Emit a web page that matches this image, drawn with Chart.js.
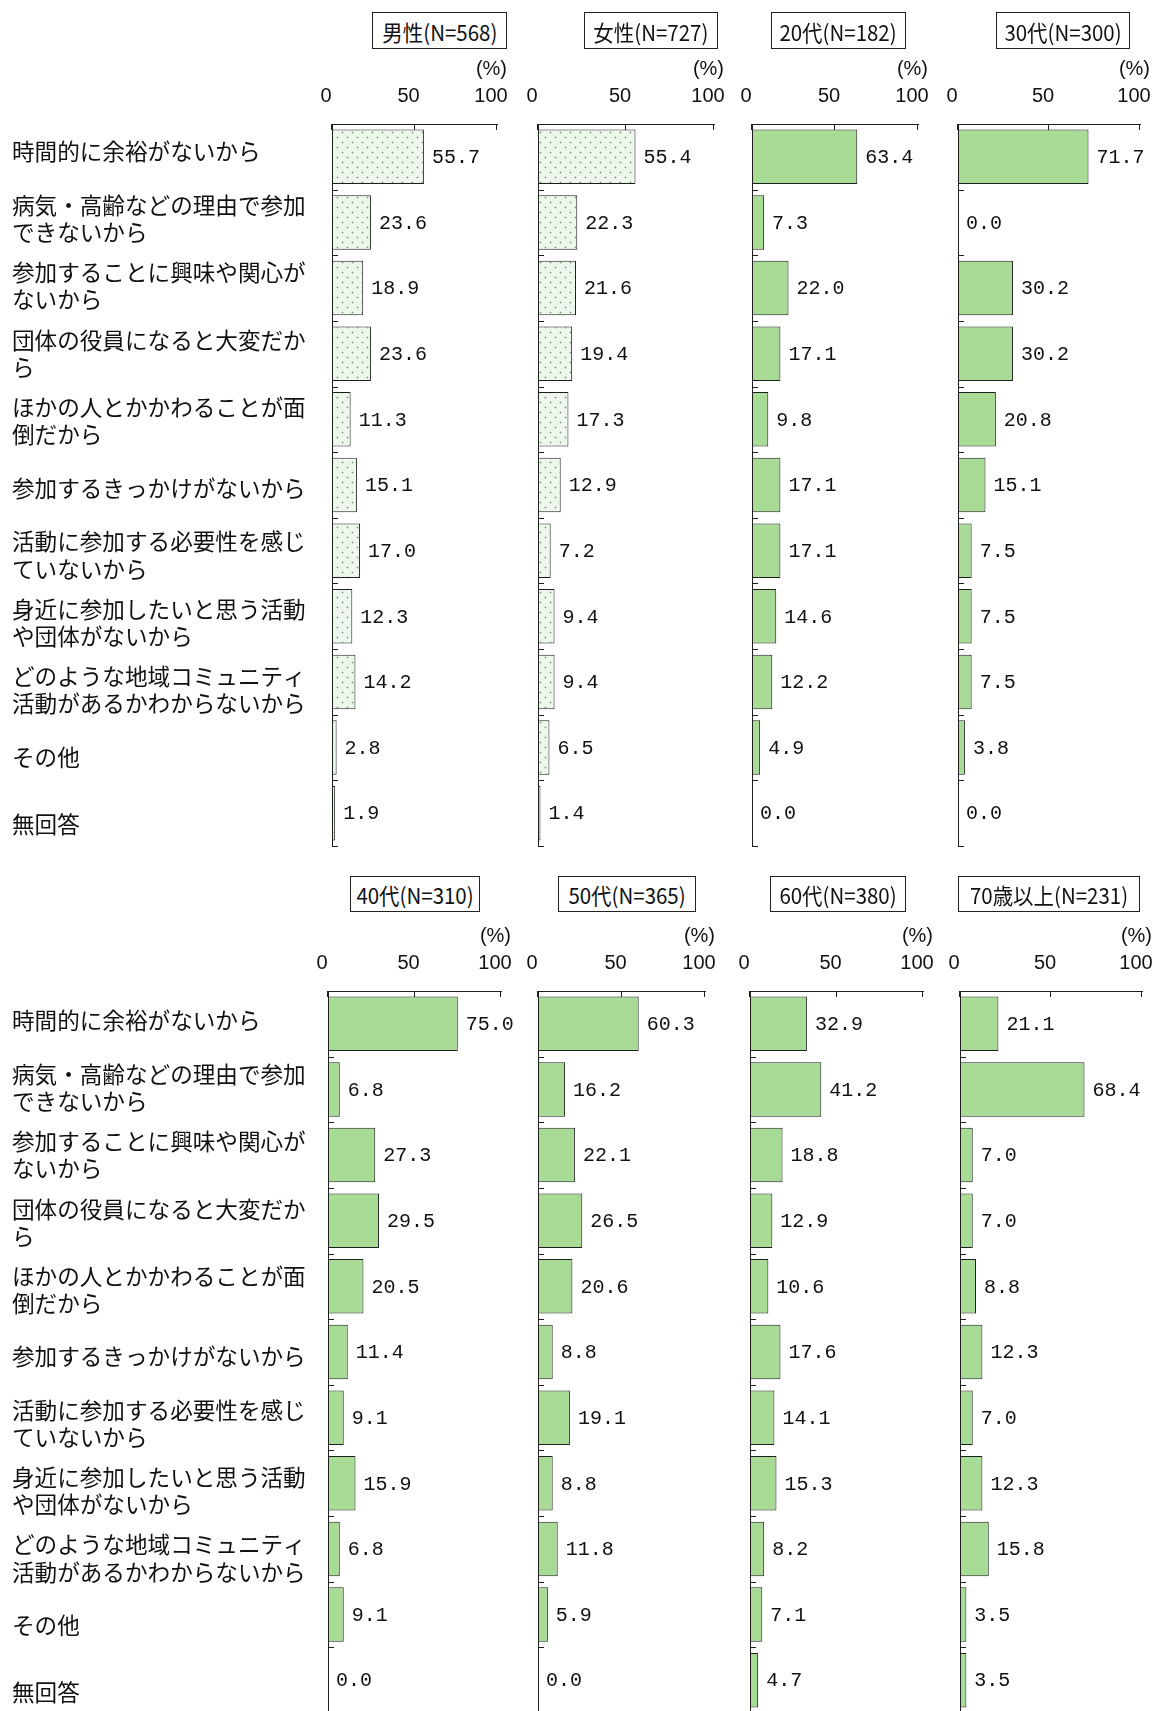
<!DOCTYPE html>
<html><head><meta charset="utf-8">
<script src="https://cdn.jsdelivr.net/npm/chart.js@4.4.1/dist/chart.umd.min.js"></script>
<style>
html,body{margin:0;padding:0;width:1154px;height:1711px;overflow:hidden;background:#fff;}
.t{position:absolute;border:1px solid #222;box-sizing:border-box;display:flex;align-items:center;justify-content:center;font-family:"Noto Sans CJK JP";font-size:22px;color:#111;background:#fff;white-space:nowrap;z-index:2;overflow:hidden;}
.t span{display:inline-block;transform:scaleX(0.93);}
</style></head><body>
<script>
// ---- data ----
const categories = [
  '時間的に余裕がないから',
  ['病気・高齢などの理由で参加', 'できないから'],
  ['参加することに興味や関心が', 'ないから'],
  ['団体の役員になると大変だか', 'ら'],
  ['ほかの人とかかわることが面', '倒だから'],
  '参加するきっかけがないから',
  ['活動に参加する必要性を感じ', 'ていないから'],
  ['身近に参加したいと思う活動', 'や団体がないから'],
  ['どのような地域コミュニティ', '活動があるかわからないから'],
  'その他',
  '無回答'
];
const panelTitles = ['男性(N=568)', '女性(N=727)', '20代(N=182)', '30代(N=300)',
                     '40代(N=310)', '50代(N=365)', '60代(N=380)', '70歳以上(N=231)'];
const xTickValues = [0, 50, 100];
const maleValues   = [55.7, 23.6, 18.9, 23.6, 11.3, 15.1, 17.0, 12.3, 14.2, 2.8, 1.9];
const femaleValues = [55.4, 22.3, 21.6, 19.4, 17.3, 12.9, 7.2, 9.4, 9.4, 6.5, 1.4];
const age20Values  = [63.4, 7.3, 22.0, 17.1, 9.8, 17.1, 17.1, 14.6, 12.2, 4.9, 0.0];
const age30Values  = [71.7, 0.0, 30.2, 30.2, 20.8, 15.1, 7.5, 7.5, 7.5, 3.8, 0.0];
const age40Values  = [75.0, 6.8, 27.3, 29.5, 20.5, 11.4, 9.1, 15.9, 6.8, 9.1, 0.0];
const age50Values  = [60.3, 16.2, 22.1, 26.5, 20.6, 8.8, 19.1, 8.8, 11.8, 5.9, 0.0];
const age60Values  = [32.9, 41.2, 18.8, 12.9, 10.6, 17.6, 14.1, 15.3, 8.2, 7.1, 4.7];
const age70Values  = [21.1, 68.4, 7.0, 7.0, 8.8, 12.3, 7.0, 12.3, 15.8, 3.5, 3.5];
const seriesValues = [maleValues, femaleValues, age20Values, age30Values,
                      age40Values, age50Values, age60Values, age70Values];

// ---- layout (positions / styles) ----
const rows = [
  {axis: 124, bottom: 846, box: [12, 49], labelRange: [-0.41, 10.318]},
  {axis: 991, bottom: 1713, box: [876, 912], labelRange: [-0.445, 10.30]}
];
const layout = [
  {row: 0, x0: 332, x1: 497, box: [372, 507], pattern: true},
  {row: 0, x0: 538, x1: 714, box: [584, 718], pattern: true},
  {row: 0, x0: 752, x1: 918, box: [771, 906]},
  {row: 0, x0: 958, x1: 1140, box: [996, 1130]},
  {row: 1, x0: 328, x1: 501, box: [350, 480]},
  {row: 1, x0: 538, x1: 705, box: [558, 696]},
  {row: 1, x0: 750, x1: 923, box: [770, 906]},
  {row: 1, x0: 960, x1: 1142, box: [958, 1140]}
];
const GREEN = '#a8db95';
const EDGE = '#1e1e1e';

function makePattern() {
  const c = document.createElement('canvas');
  c.width = 10; c.height = 10;
  const g = c.getContext('2d');
  g.fillStyle = '#edf7ec'; g.fillRect(0, 0, 10, 10);
  g.fillStyle = '#c6d4c5';
  g.fillRect(1, 2, 3, 1); g.fillRect(2, 1, 1, 3);
  g.fillRect(6, 7, 3, 1); g.fillRect(7, 6, 1, 3);
  g.fillStyle = '#879587';
  g.fillRect(2, 2, 1, 1); g.fillRect(7, 7, 1, 1);
  return g.createPattern(c, 'repeat');
}
const dotPattern = makePattern();

const decor = {
  id: 'decor',
  afterDatasetsDraw(chart) {
    const {ctx, chartArea: a, scales: {x, y}} = chart;
    ctx.save();
    ctx.strokeStyle = EDGE; ctx.lineWidth = 1;
    x.ticks.forEach(t => {
      const px = Math.round(x.getPixelForValue(t.value)) - 0.5;
      ctx.beginPath(); ctx.moveTo(px, a.top); ctx.lineTo(px, a.top + 6); ctx.stroke();
    });
    const n = chart.data.labels.length;
    for (let i = 0; i <= n; i++) {
      const py = Math.round(y.getPixelForValue(i - 0.5)) + 0.5;
      ctx.beginPath(); ctx.moveTo(a.left, py); ctx.lineTo(a.left + 6, py); ctx.stroke();
    }
    const meta = chart.getDatasetMeta(0);
    const vals = chart.data.datasets[0].data;
    ctx.fillStyle = '#111';
    ctx.font = '20px "Liberation Mono"';
    ctx.textBaseline = 'middle'; ctx.textAlign = 'left';
    meta.data.forEach((bar, i) => {
      ctx.fillText(vals[i].toFixed(1), bar.x + 8, bar.y + 1);
    });
    ctx.font = '20px "Liberation Sans"';
    ctx.textAlign = 'right';
    ctx.fillText('(%)', a.right + 10, a.top - 55);
    ctx.restore();
  }
};

layout.forEach((p, idx) => {
  const row = rows[p.row];
  const first = (idx % 4) === 0;
  const L = first ? 12 : 20, R = 24, TOPH = 124, BOT = 4;
  const left = first ? 0 : p.x0 - L;
  const w = (p.x1 - left) + R;
  const top = row.axis - TOPH;
  const h = (row.bottom - row.axis) + TOPH + BOT;
  const yw = first ? p.x0 - L : 0;

  const cv = document.createElement('canvas');
  cv.width = w; cv.height = h;
  cv.style.cssText = `position:absolute;left:${left}px;top:${top}px;width:${w}px;height:${h}px;z-index:1;`;
  document.body.appendChild(cv);

  const box = document.createElement('div');
  box.className = 't';
  const sp = document.createElement('span');
  sp.textContent = panelTitles[idx];
  box.appendChild(sp);
  box.style.left = p.box[0] + 'px';
  box.style.width = (p.box[1] - p.box[0]) + 'px';
  box.style.top = row.box[0] + 'px';
  box.style.height = (row.box[1] - row.box[0]) + 'px';
  document.body.appendChild(box);

  const scales = {
    x: {
      type: 'linear', position: 'top', min: 0, max: 100,
      afterBuildTicks(s) { s.ticks = xTickValues.map(v => ({value: v})); },
      ticks: {labelOffset: -6, padding: 16, color: '#111', maxRotation: 0, autoSkip: false,
              font: {family: 'Liberation Sans', size: 20}},
      grid: {display: false, drawTicks: false},
      border: {display: true, color: EDGE, width: 1},
      afterFit(s) { s.height = TOPH; s.paddingLeft = 0; s.paddingRight = 0; }
    },
    y: {
      type: 'category', position: 'left',
      ticks: {display: false},
      grid: {display: false, drawTicks: false},
      border: {display: true, color: EDGE, width: 1},
      afterFit(s) { s.width = 0; s.paddingTop = 0; s.paddingBottom = 0; }
    }
  };
  if (first) {
    scales.yl = {
      type: 'linear', position: 'left', reverse: true, bounds: 'data', offset: false,
      min: row.labelRange[0], max: row.labelRange[1],
      afterBuildTicks(s) {
        s.ticks = categories.map((c, i) => ({value: i}));
        s.min = row.labelRange[0]; s.max = row.labelRange[1];
      },
      ticks: {display: true, crossAlign: 'far', padding: 0, color: '#111', autoSkip: false,
              callback: (v) => categories[v],
              font: {family: 'Noto Sans CJK JP', size: 22.6, lineHeight: 1.2}},
      grid: {display: false, drawTicks: false, offset: false},
      border: {display: false},
      afterFit(s) { s.width = yw; s.paddingTop = 0; s.paddingBottom = 0; }
    };
  }

  new Chart(cv, {
    type: 'bar',
    data: {
      labels: categories,
      datasets: [{
        data: seriesValues[idx],
        backgroundColor: p.pattern ? dotPattern : GREEN,
        borderColor: EDGE,
        borderWidth: 1,
        borderSkipped: false,
        categoryPercentage: 1,
        barPercentage: 0.83,
        xAxisID: 'x', yAxisID: 'y'
      }]
    },
    options: {
      indexAxis: 'y',
      responsive: false,
      animation: false,
      devicePixelRatio: 1,
      layout: {padding: {left: L, right: R, top: 0, bottom: BOT}},
      plugins: {legend: {display: false}, tooltip: {enabled: false}},
      scales
    },
    plugins: [decor]
  });
});
</script>
</body></html>
